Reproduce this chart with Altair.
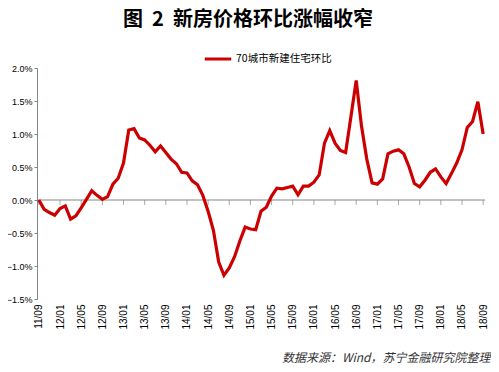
import altair as alt
import pandas as pd

# ---- data ----
months = [f"{(2011 + (8 + k) // 12) % 100:02d}/{(8 + k) % 12 + 1:02d}" for k in range(85)]
values = [
    0.00, -0.14, -0.19, -0.23, -0.13, -0.09, -0.29, -0.24, -0.12, 0.01,
    0.14, 0.07, 0.01, 0.05, 0.24, 0.33, 0.56, 1.06, 1.08, 0.94,
    0.91, 0.83, 0.73, 0.82, 0.72, 0.62, 0.55, 0.42, 0.41, 0.29,
    0.23, 0.07, -0.17, -0.46, -0.94, -1.14, -1.03, -0.86, -0.62, -0.41,
    -0.44, -0.45, -0.17, -0.11, 0.06, 0.18, 0.17, 0.19, 0.21, 0.08,
    0.21, 0.21, 0.27, 0.38, 0.86, 1.05, 0.86, 0.75, 0.72, 1.26,
    1.81, 1.12, 0.62, 0.26, 0.24, 0.32, 0.70, 0.74, 0.76, 0.70,
    0.50, 0.25, 0.20, 0.30, 0.42, 0.47, 0.35, 0.25, 0.40, 0.56,
    0.76, 1.10, 1.19, 1.49, 1.00,
]
series_name = "70城市新建住宅环比"
tick_labels = months[::4]
y_ticks = [-1.5, -1.0, -0.5, 0.0, 0.5, 1.0, 1.5, 2.0]
title_text = "图\u00a0\u00a02\u00a0\u00a0新房价格环比涨幅收窄"
source_text = "数据来源：Wind，苏宁金融研究院整理"

df = pd.DataFrame({"month": months, "value": values, "series": series_name})
ticks_df = pd.DataFrame({"month": tick_labels, "value": [0.0] * len(tick_labels)})
zero_df = pd.DataFrame({"value": [0.0]})

GRAY = "#868686"
LATIN = "Liberation Sans"
CJK = "Noto Sans CJK SC"

x_scale = alt.Scale(type="point", padding=0.35, domain=months)
y_scale = alt.Scale(domain=[-1.5, 2.0], nice=False, zero=False)

x_axis = alt.Axis(
    values=tick_labels,
    labelAngle=-90,
    domain=False,
    ticks=False,
    labelPadding=5,
    labelOverlap=False,
    labelFont=LATIN,
    labelFontSize=10,
    labelColor="#000000",
    title=source_text,
    titleFont=CJK,
    titleFontSize=12,
    titleFontStyle="italic",
    titleFontWeight="normal",
    titleColor="#333333",
    titleAlign="right",
    titleAnchor="end",
    titleBaseline="bottom",
    titleX=453,
    titleY=65,
)

y_axis = alt.Axis(
    values=y_ticks,
    labelExpr="format(datum.value, '.1f') + '%'",
    labelOverlap=False,
    grid=False,
    domainColor=GRAY,
    tickColor=GRAY,
    tickSize=3,
    labelPadding=2,
    labelFont=LATIN,
    labelFontSize=9,
    labelColor="#000000",
    title=None,
)

line = alt.Chart(df).mark_line(strokeWidth=3.2).encode(
    x=alt.X("month:O", sort=months, scale=x_scale, axis=x_axis),
    y=alt.Y("value:Q", scale=y_scale, axis=y_axis),
    color=alt.Color(
        "series:N",
        scale=alt.Scale(range=["#cc0000"]),
        legend=alt.Legend(
            title=None,
            orient="none",
            legendX=166,
            legendY=-24,
            symbolType="stroke",
            symbolSize=700,
            symbolStrokeWidth=3,
            labelFont=CJK,
            labelFontSize=10.5,
            labelColor="#000000",
            labelOffset=3,
        ),
    ),
)

zero_rule = alt.Chart(zero_df).mark_rule(color=GRAY, strokeWidth=1).encode(
    y=alt.Y("value:Q", scale=y_scale, axis=y_axis)
)

zero_ticks = alt.Chart(ticks_df).mark_tick(
    orient="vertical", size=5, thickness=1, color=GRAY, yOffset=2.5
).encode(
    x=alt.X("month:O", sort=months, scale=x_scale, axis=x_axis),
    y=alt.Y("value:Q", scale=y_scale, axis=y_axis),
)

chart = (
    alt.layer(zero_rule, zero_ticks, line)
    .properties(
        width=448,
        height=231,
        autosize=alt.AutoSizeParams(type="none"),
        padding={"left": 29, "top": 60, "right": 6, "bottom": 69},
        title=alt.Title(
            title_text,
            font=CJK,
            fontSize=20,
            fontWeight="bold",
            color="#000000",
            anchor="middle",
            dx=-13,
            offset=14,
        ),
    )
    .configure(background="white")
    .configure_view(stroke=None)
)

chart.save("out.html", embed_options={"renderer": "svg", "actions": False})
